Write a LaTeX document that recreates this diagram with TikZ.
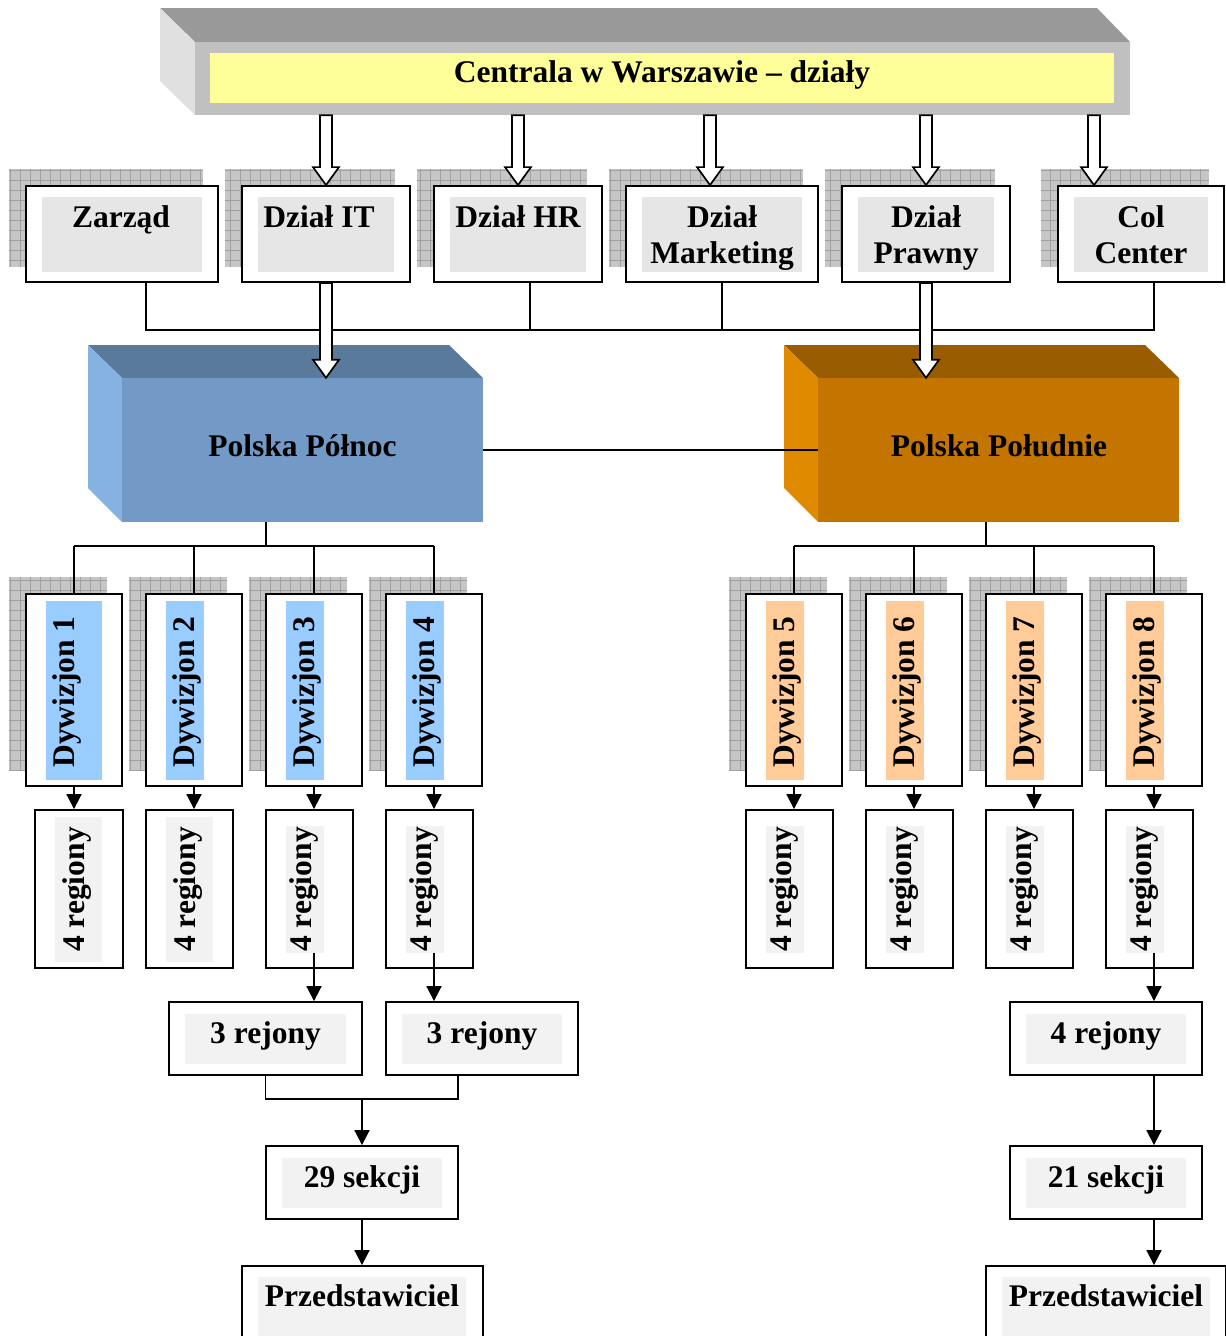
\documentclass[tikz,border=0pt]{standalone}
\usepackage{fontspec}
\setmainfont{Liberation Serif}
\usetikzlibrary{arrows.meta,calc,backgrounds}

\definecolor{bnTop}{HTML}{999999}
\definecolor{bnSide}{HTML}{E0E0E0}
\definecolor{bnFront}{HTML}{C0C0C0}
\definecolor{bnIn}{HTML}{FFFF99}
\definecolor{nTop}{HTML}{5A7A9C}
\definecolor{nFront}{HTML}{7399C6}
\definecolor{nSide}{HTML}{86B2E2}
\definecolor{sTop}{HTML}{995C00}
\definecolor{sFront}{HTML}{C47500}
\definecolor{sSide}{HTML}{E08A00}
\definecolor{shFill}{HTML}{C6C6C6}
\definecolor{shGrid}{HTML}{A0A0A0}
\definecolor{deptIn}{HTML}{E6E6E6}
\definecolor{lvlIn}{HTML}{F2F2F2}
\definecolor{blueIn}{HTML}{99CCFF}
\definecolor{orangeIn}{HTML}{FFCC99}

\tikzset{
  sz/.style 2 args={minimum width={(#1)*1pt}, minimum height={(#2)*1pt}},
  box/.style={draw, line width=1.8pt, fill=white, inner sep=0pt},
  fillbox/.style={inner sep=0pt, draw=none},
  lbl/.style={inner sep=0pt},
  conn/.style={line width=1.7pt},
  arr/.style={conn, -{Triangle[length=15pt,width=15pt]}},
  hollow/.style={draw=black, line width=1.7pt, fill=white, line join=miter,
    to path={let \p1=(\tikztostart), \p2=(\tikztotarget) in
      (\x1-6pt,\y1) -- (\x1-6pt,\y2+18pt) -- (\x1-13pt,\y2+18pt) -- (\x1,\y2)
      -- (\x1+13pt,\y2+18pt) -- (\x1+6pt,\y2+18pt) -- (\x1+6pt,\y1) -- cycle}},
  gridshadow/.style={shGrid, line width=0.6pt, step=10pt}
}

% dotted-grid drop shadow behind a box, shifted up and left
\newcommand\boxshadow[1]{%
  \begin{scope}[on background layer]
    \fill[shFill] ($(#1.north west)+(-16,-16)$) rectangle ($(#1.south east)+(-16,-16)$);
    \draw[gridshadow] ($(#1.north west)+(-16,-16)$) grid ($(#1.south east)+(-16,-16)$);
  \end{scope}}

% department box: name, centre x, width, text x, text
\newcommand\deptbox[5]{%
  \node[box, sz={#3}{96}] (#1) at (#2,234) {};
  \node[fillbox, fill=deptIn, sz={#3-32}{75}] (#1In) at (#2,234.5) {};
  \node[lbl, align=center, anchor=north] (#1Txt) at (#4,205.5) {#5};
  \boxshadow{#1}}

\begin{document}
\begin{tikzpicture}[x=1pt,y=-1pt,font=\fontsize{31.5}{36}\selectfont\bfseries]
\clip (0,0) rectangle (1226,1336);

% head office banner (3D slab)
\fill[bnTop] (160,8) -- (1097,8) -- (1130,42) -- (195,42) -- cycle;
\fill[bnSide] (160,8) -- (195,42) -- (195,115) -- (160,81) -- cycle;
\node[fillbox, fill=bnFront, sz={935}{73}] (central) at (662.5,78.5) {};
\node[fillbox, fill=bnIn, sz={904}{50}] (centralIn) at (662,78) {};
\node[lbl, anchor=base] (centralTxt) at (662,82) {Centrala w Warszawie – działy};

% departments
\deptbox{zarzad}{122}{192}{121}{Zarząd}
\deptbox{it}{326}{168}{319}{Dział IT}
\deptbox{hr}{518}{168}{518}{Dział HR}
\deptbox{mkt}{722}{192}{722}{Dział\\Marketing}
\deptbox{prawny}{926}{168}{926}{Dział\\Prawny}
\deptbox{col}{1141}{166}{1141}{Col\\Center}

% bus joining the departments
\coordinate (busY) at (0,330);
\coordinate (zb) at ($(zarzad.south)+(24,0)$);
\coordinate (hb) at ($(hr.south)+(12,0)$);
\coordinate (cb) at ($(col.south)+(13,0)$);
\draw[conn] (zb) -- (zb |- busY) -- (cb |- busY) -- (cb);
\draw[conn] (hb) -- (hb |- busY);
\draw[conn] (mkt.south) -- (mkt.south |- busY);

% regional blocks (3D)
\fill[nTop] (88,345) -- (449,345) -- (483,378) -- (122,378) -- cycle;
\fill[nSide] (88,345) -- (122,378) -- (122,522) -- (88,488) -- cycle;
\node[fillbox, fill=nFront, sz={361}{144}] (pnorth) at (302.5,450) {};
\node[lbl, anchor=base] (pnorthTxt) at (302.5,456) {Polska Północ};

\fill[sTop] (784,345) -- (1145,345) -- (1179,378) -- (818,378) -- cycle;
\fill[sSide] (784,345) -- (818,378) -- (818,522) -- (784,488) -- cycle;
\node[fillbox, fill=sFront, sz={361}{144}] (psouth) at (998.5,450) {};
\node[lbl, anchor=base] (psouthTxt) at (999,456) {Polska Południe};

\draw[conn] (pnorth.east) -- (psouth.west);

% hollow arrows from head office
\coordinate (mktA) at ($(mkt.north)+(-12,0)$);
\coordinate (colA) at ($(col.north)+(-47,0)$);
\draw[hollow] (central.south -| it.north) to (it.north);
\draw[hollow] (central.south -| hr.north) to (hr.north);
\draw[hollow] (central.south -| mktA) to (mktA);
\draw[hollow] (central.south -| prawny.north) to (prawny.north);
\draw[hollow] (central.south -| colA) to (colA);
\draw[hollow] (it.south) to (pnorth.north -| it.south);
\draw[hollow] (prawny.south) to (psouth.north -| prawny.south);

% divisions
\foreach \i/\cx/\iw/\ix/\col in {1/74/56/74/blueIn,2/194/38/185/blueIn,3/314/38/305/blueIn,4/434/38/425/blueIn,5/794/38/785/orangeIn,6/914/38/905/orangeIn,7/1034/38/1025/orangeIn,8/1154/38/1145/orangeIn}{
  \node[box, sz={96}{192}] (d\i) at (\cx,690) {};
  \node[fillbox, fill=\col, sz={\iw}{179}] (d\i-in) at (\ix,690.5) {};
  \node[lbl, rotate=90] (d\i-txt) at (\cx-7,692) {Dywizjon \i};
  \boxshadow{d\i}
}

% division buses
\coordinate (nDrop) at ($(pnorth.south)+(-36.5,0)$);
\coordinate (sDrop) at ($(psouth.south)+(-12.5,0)$);
\draw[conn] (nDrop) -- ++(0,24) coordinate (nb);
\draw[conn] (d1.north |- nb) -- (d4.north |- nb);
\draw[conn] (sDrop) -- ++(0,24) coordinate (sb);
\draw[conn] (d5.north |- sb) -- (d8.north |- sb);
\foreach \i in {1,2,3,4}{\draw[conn] (d\i.north |- nb) -- (d\i.north);}
\foreach \i in {5,6,7,8}{\draw[conn] (d\i.north |- sb) -- (d\i.north);}

% regions
\foreach \i/\cx/\w/\ix/\iw/\ih in {1/79/88/78.5/47/145,2/189.5/87/189.5/47/145,3/309.5/87/305/38/127,4/429.5/87/425/38/127,5/789.5/87/785/38/127,6/909.5/87/905/38/127,7/1029.5/87/1025/38/127,8/1149.5/87/1145/38/127}{
  \node[box, sz={\w}{158}] (r\i) at (\cx,889) {};
  \node[fillbox, fill=lvlIn, sz={\iw}{\ih}] (r\i-in) at (\ix,889.5) {};
  \node[lbl, rotate=90] (r\i-txt) at (\ix-1,889.5) {4 regiony};
}
\foreach \i in {1,...,8}{\draw[arr] (d\i.south) -- (r\i.north -| d\i.south);}

% districts, sections, representatives
\newcommand\lvlbox[5]{%
  \node[box, sz={#4}{73}] (#1) at (#2,#3) {};
  \node[fillbox, fill=lvlIn, sz={#4-32}{50}] (#1In) at (#2,#3) {};
  \node[lbl, anchor=base] (#1Txt) at (#2,#3+5) {#5};}
\lvlbox{rejA}{265.5}{1038.5}{193}{3 rejony}
\lvlbox{rejB}{482}{1038.5}{192}{3 rejony}
\lvlbox{rejC}{1106}{1038.5}{192}{4 rejony}
\lvlbox{sekA}{362}{1182.5}{192}{29 sekcji}
\lvlbox{sekB}{1106}{1182.5}{192}{21 sekcji}

\node[box, sz={241}{120}] (przA) at (362.5,1326) {};
\node[fillbox, fill=lvlIn, sz={208}{100}] (przAIn) at (362,1327) {};
\node[lbl, anchor=base] (przATxt) at (362,1306) {Przedstawiciel};
\node[box, sz={240}{120}] (przB) at (1106,1326) {};
\node[fillbox, fill=lvlIn, sz={208}{100}] (przBIn) at (1106,1327) {};
\node[lbl, anchor=base] (przBTxt) at (1106,1306) {Przedstawiciel};

\draw[arr] (d3.south |- r3-in.south) -- (rejA.north -| d3.south);
\draw[arr] (d4.south |- r4-in.south) -- (rejB.north -| d4.south);
\draw[arr] (d8.south |- r8-in.south) -- (rejC.north -| d8.south);

\coordinate (rbR) at ($(rejB.south)+(-24,0)$);
\draw[conn] (rejA.south) -- ++(0,23) coordinate (rb) -| (rbR);
\draw[arr] (sekA.north |- rb) -- (sekA.north);
\draw[arr] (rejC.south -| d8.south) -- (sekB.north -| d8.south);
\draw[arr] (sekA.south) -- (przA.north -| sekA.south);
\draw[arr] (sekB.south -| d8.south) -- (przB.north -| d8.south);

\end{tikzpicture}
\end{document}
